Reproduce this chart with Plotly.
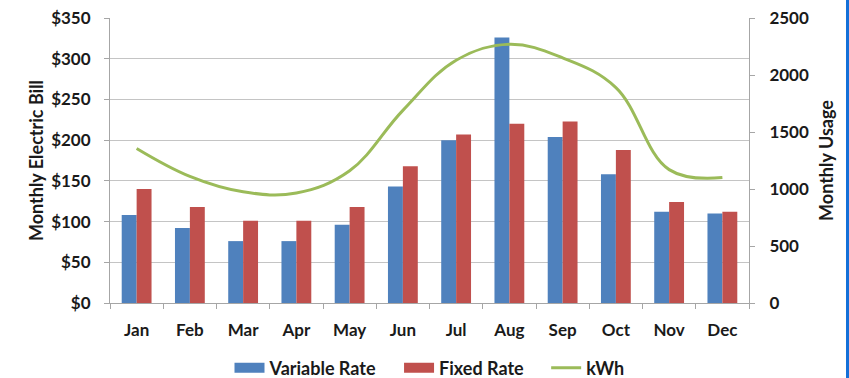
import plotly.graph_objects as go

months = ["Jan", "Feb", "Mar", "Apr", "May", "Jun", "Jul", "Aug", "Sep", "Oct", "Nov", "Dec"]
variable_rate = [108, 92, 76, 76, 96, 143, 200, 326, 204, 158, 112, 110]
fixed_rate = [140, 118, 101, 101, 118, 168, 207, 220, 223, 188, 124, 112]
kwh = [1355, 1110, 975, 965, 1160, 1690, 2130, 2270, 2150, 1890, 1170, 1100]

bill_ticks = [0, 50, 100, 150, 200, 250, 300, 350]
bill_tick_text = ["$0", "$50", "$100", "$150", "$200", "$250", "$300", "$350"]
usage_ticks = [0, 500, 1000, 1500, 2000, 2500]

BLUE = "#4F81BD"
RED = "#C0504D"
GREEN = "#9BBB59"
FONT = "Lato, 'Open Sans', sans-serif"
PAD = "\u00a0" * 4

fig = go.Figure()
fig.add_trace(go.Bar(x=months, y=variable_rate, name="Variable Rate", showlegend=False,
                     marker=dict(color=BLUE, line=dict(width=0))))
fig.add_trace(go.Bar(x=months, y=fixed_rate, name="Fixed Rate", showlegend=False,
                     marker=dict(color=RED, line=dict(width=0))))
fig.add_trace(go.Scatter(x=months, y=kwh, name="kWh", yaxis="y2", mode="lines", showlegend=False,
                         line=dict(color=GREEN, width=3, shape="spline", smoothing=1.1)))
# legend-only entries (wide swatches like the original)
fig.add_trace(go.Scatter(x=[None], y=[None], name="Variable Rate" + PAD, mode="lines",
                         line=dict(color=BLUE, width=10)))
fig.add_trace(go.Scatter(x=[None], y=[None], name="Fixed Rate" + PAD, mode="lines",
                         line=dict(color=RED, width=10)))
fig.add_trace(go.Scatter(x=[None], y=[None], name="kWh", mode="lines",
                         line=dict(color=GREEN, width=3)))

fig.update_layout(
    width=849, height=378,
    margin=dict(l=110, r=100, t=18, b=75, autoexpand=False),
    paper_bgcolor="white", plot_bgcolor="white",
    font=dict(family=FONT, size=17, color="#1a1a1a"),
    barmode="group", bargap=0.44, bargroupgap=0,
    showlegend=True,
    legend=dict(orientation="h", x=0.5, xanchor="center", y=-(368 - 303) / 285, yanchor="middle",
                font=dict(size=18, family=FONT, weight="bold"), traceorder="normal",
                itemwidth=30, bgcolor="rgba(0,0,0,0)"),
    xaxis=dict(type="category", showline=True, linecolor="#A6A6A6", linewidth=1,
               ticks="outside", tickson="boundaries", ticklen=5, tickcolor="#A6A6A6",
               tickfont=dict(size=17, weight="bold"), showgrid=False, ticklabelstandoff=12),
    yaxis=dict(range=[0, 350], tickvals=bill_ticks, ticktext=bill_tick_text,
               showline=True, linecolor="#A6A6A6", linewidth=1,
               ticks="outside", ticklen=5, tickcolor="#A6A6A6",
               showgrid=True, gridcolor="#C4C4C4", gridwidth=1, zeroline=False,
               tickfont=dict(size=17, weight="bold"), ticklabelstandoff=10,
               title=dict(text="Monthly Electric Bill", font=dict(size=18, weight="bold"), standoff=2)),
    yaxis2=dict(range=[0, 2500], tickvals=usage_ticks, overlaying="y", side="right",
                showline=True, linecolor="#A6A6A6", linewidth=1,
                ticks="outside", ticklen=5, tickcolor="#A6A6A6",
                showgrid=False, zeroline=False,
                tickfont=dict(size=17, weight="bold"), ticklabelstandoff=11,
                title=dict(text="Monthly Usage", font=dict(size=18, weight="bold"), standoff=12)),
    shapes=[dict(type="rect", xref="paper", yref="paper", x0=(846 - 110) / 639, x1=1.3,
                 y0=-0.5, y1=1.5, fillcolor="#1470D8", line=dict(width=0), layer="above")],
)

fig.write_html("out.html", config={"displayModeBar": False},
               post_script="document.body.style.margin='0';document.body.style.padding='0';")
